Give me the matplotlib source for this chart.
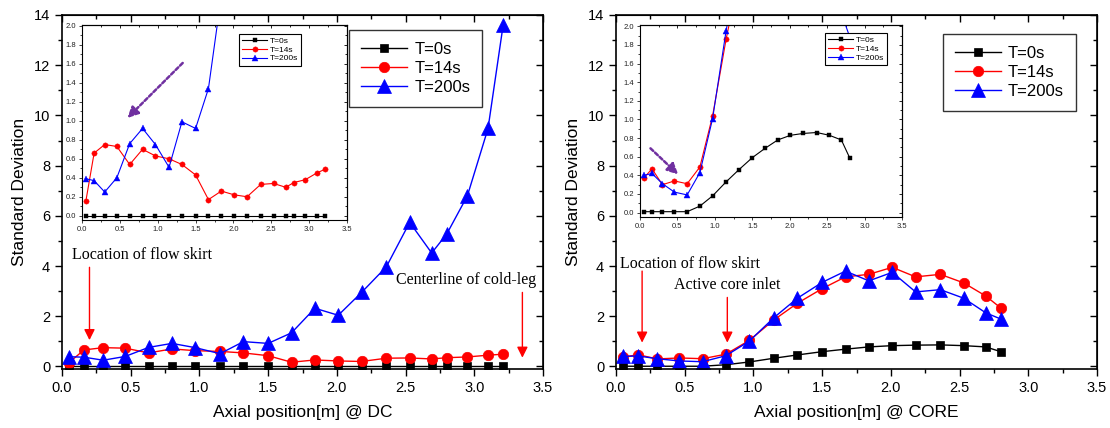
import matplotlib
matplotlib.use("Agg")
import matplotlib.pyplot as plt
from matplotlib.ticker import MultipleLocator

plt.rcParams['font.family'] = ['Liberation Sans', 'DejaVu Sans']

# ---------------- data ----------------
labels = ['T=0s', 'T=14s', 'T=200s']

dc_x = [0.05, 0.16, 0.30, 0.46, 0.63, 0.80, 0.97, 1.15, 1.32, 1.50, 1.67,
        1.84, 2.01, 2.18, 2.36, 2.53, 2.69, 2.80, 2.95, 3.10, 3.21]
dc_t0 = [0.0] * 21
dc_t14 = [0.15, 0.66, 0.75, 0.73, 0.54, 0.70, 0.63, 0.60, 0.54, 0.43, 0.17,
          0.26, 0.22, 0.20, 0.33, 0.34, 0.30, 0.35, 0.38, 0.45, 0.49]
dc_t200 = [0.39, 0.37, 0.25, 0.40, 0.76, 0.92, 0.75, 0.51, 0.99, 0.92, 1.34,
           2.32, 2.04, 2.95, 3.97, 5.74, 4.52, 5.28, 6.80, 9.48, 13.6]

core_x = [0.05, 0.16, 0.30, 0.46, 0.63, 0.80, 0.97, 1.15, 1.32, 1.50, 1.67,
          1.84, 2.01, 2.18, 2.36, 2.53, 2.69, 2.80]
core_t0 = [0.01, 0.01, 0.01, 0.01, 0.01, 0.07, 0.18, 0.33, 0.46, 0.59, 0.69,
           0.78, 0.83, 0.85, 0.86, 0.83, 0.78, 0.59]
core_t14 = [0.37, 0.47, 0.30, 0.34, 0.31, 0.49, 1.04, 1.86, 2.52, 3.10, 3.57,
            3.67, 3.95, 3.57, 3.67, 3.33, 2.81, 2.33]
core_t200 = [0.40, 0.42, 0.31, 0.22, 0.19, 0.43, 1.01, 1.95, 2.72, 3.35, 3.80,
             3.41, 3.75, 2.97, 3.06, 2.72, 2.14, 1.89]

colors = ['black', '#ff0000', '#0000ff']
markers = ['s', 'o', '^']
main_ms = [6, 7.5, 9.5]
inset_ms = [3.2, 3.8, 4.6]

W, H = 1110, 428
fig = plt.figure(figsize=(W / 100, H / 100), dpi=100)


def px_rect(x0, y0, x1, y1):
    return [x0 / W, (H - y1) / H, (x1 - x0) / W, (y1 - y0) / H]


def add_mirror_ticks(ax, xmaj, xmin, ymaj, ymin, length, mlength, width):
    top = ax.secondary_xaxis('top')
    top.xaxis.set_major_locator(MultipleLocator(xmaj))
    top.xaxis.set_minor_locator(MultipleLocator(xmin))
    top.tick_params(which='both', direction='in', labeltop=False, width=width)
    top.tick_params(which='major', length=length)
    top.tick_params(which='minor', length=mlength)
    right = ax.secondary_yaxis('right')
    right.yaxis.set_major_locator(MultipleLocator(ymaj))
    right.yaxis.set_minor_locator(MultipleLocator(ymin))
    right.tick_params(which='both', direction='in', labelright=False, width=width)
    right.tick_params(which='major', length=length)
    right.tick_params(which='minor', length=mlength)


def main_axes(rect, x, series, xlabel, legend_anchor):
    ax = fig.add_axes(rect)
    for s, c, m, ms, lab in zip(series, colors, markers, main_ms, labels):
        ax.plot(x, s, color=c, marker=m, markersize=ms, lw=1.0, label=lab,
                markeredgewidth=0.5)
    ax.set_xlim(0, 3.5)
    ax.set_ylim(-0.1, 14)
    ax.xaxis.set_major_locator(MultipleLocator(0.5))
    ax.xaxis.set_minor_locator(MultipleLocator(0.25))
    ax.yaxis.set_major_locator(MultipleLocator(2))
    ax.yaxis.set_minor_locator(MultipleLocator(1))
    ax.tick_params(which='both', direction='out', labelsize=10.5, width=1.0)
    ax.tick_params(which='major', length=5)
    ax.tick_params(which='minor', length=3)
    ax.xaxis.set_major_formatter(matplotlib.ticker.FormatStrFormatter('%.1f'))
    for sp in ax.spines.values():
        sp.set_linewidth(1.2)
    add_mirror_ticks(ax, 0.5, 0.25, 2, 1, 5, 3, 1.0)
    ax.set_xlabel(xlabel, fontsize=12.5, labelpad=7)
    ax.set_ylabel('Standard Deviation', fontsize=12.5, labelpad=5)
    leg = ax.legend(loc='upper left', bbox_to_anchor=legend_anchor,
                    borderaxespad=0, fontsize=12, frameon=True, fancybox=False,
                    edgecolor='black', handlelength=2.8, labelspacing=0.25,
                    borderpad=0.7, handletextpad=0.4)
    leg.get_frame().set_linewidth(1.0)
    leg.set_zorder(20)
    return ax


def inset_axes(rect, x, series, ylim, legend_anchor):
    ax = fig.add_axes(rect)
    ax.set_zorder(10)
    for s, c, m, ms, lab in zip(series, colors, markers, inset_ms, labels):
        ax.plot(x, s, color=c, marker=m, markersize=ms, lw=0.8, label=lab,
                markeredgewidth=0.3)
    ax.set_xlim(0, 3.5)
    ax.set_ylim(*ylim)
    ax.xaxis.set_major_locator(MultipleLocator(0.5))
    ax.xaxis.set_minor_locator(MultipleLocator(0.25))
    ax.yaxis.set_major_locator(MultipleLocator(0.2))
    ax.yaxis.set_minor_locator(MultipleLocator(0.1))
    ax.tick_params(which='both', direction='out', labelsize=5.5, width=0.6,
                   pad=2, colors='#222222')
    ax.tick_params(which='major', length=2.5)
    ax.tick_params(which='minor', length=1.5)
    ax.xaxis.set_major_formatter(matplotlib.ticker.FormatStrFormatter('%.1f'))
    ax.yaxis.set_major_formatter(matplotlib.ticker.FormatStrFormatter('%.1f'))
    for sp in ax.spines.values():
        sp.set_linewidth(0.8)
    add_mirror_ticks(ax, 0.5, 0.25, 0.2, 0.1, 2.5, 1.5, 0.6)
    leg = ax.legend(loc='upper left', bbox_to_anchor=legend_anchor,
                    borderaxespad=0, fontsize=6, frameon=True, fancybox=False,
                    edgecolor='black', handlelength=3.0, labelspacing=0.1,
                    borderpad=0.4, handletextpad=0.3, framealpha=1)
    leg.get_frame().set_linewidth(0.8)
    return ax


# ---------------- left panel (DC) ----------------
axL = main_axes(px_rect(62, 15, 543, 369), dc_x, [dc_t0, dc_t14, dc_t200],
                'Axial position[m] @ DC', (0.597, 0.958))
axL.text(0.07, 4.45, 'Location of flow skirt', family='Liberation Serif',
         fontsize=11.5, ha='left', va='center')
axL.annotate('', xy=(0.2, 1.05), xytext=(0.2, 3.95),
             arrowprops=dict(arrowstyle='-|>', color='#ff0000', lw=1.0,
                             mutation_scale=16, shrinkA=0, shrinkB=0))
axL.text(3.45, 3.45, 'Centerline of cold-leg', family='Liberation Serif',
         fontsize=11.5, ha='right', va='center')
axL.annotate('', xy=(3.35, 0.35), xytext=(3.35, 2.95),
             arrowprops=dict(arrowstyle='-|>', color='#ff0000', lw=1.0,
                             mutation_scale=16, shrinkA=0, shrinkB=0))

inL = inset_axes(px_rect(82, 25, 347, 220), dc_x, [dc_t0, dc_t14, dc_t200],
                 (-0.045, 2.01), (0.592, 0.954))
inL.annotate('', xy=(0.6, 1.03), xytext=(1.33, 1.61),
             arrowprops=dict(arrowstyle='-|>', color='#7030a0', lw=1.8,
                             linestyle=(0, (1.5, 1.0)), mutation_scale=16,
                             shrinkA=0, shrinkB=0))

# ---------------- right panel (CORE) ----------------
axR = main_axes(px_rect(616, 15, 1097, 369), core_x, [core_t0, core_t14, core_t200],
                'Axial position[m] @ CORE', (0.680, 0.946))
axR.text(0.03, 4.1, 'Location of flow skirt', family='Liberation Serif',
         fontsize=11.5, ha='left', va='center')
axR.annotate('', xy=(0.19, 0.95), xytext=(0.19, 3.8),
             arrowprops=dict(arrowstyle='-|>', color='#ff0000', lw=1.0,
                             mutation_scale=16, shrinkA=0, shrinkB=0))
axR.text(0.42, 3.25, 'Active core inlet', family='Liberation Serif',
         fontsize=11.5, ha='left', va='center')
axR.annotate('', xy=(0.81, 0.95), xytext=(0.81, 2.75),
             arrowprops=dict(arrowstyle='-|>', color='#ff0000', lw=1.0,
                             mutation_scale=16, shrinkA=0, shrinkB=0))

inR = inset_axes(px_rect(640, 25, 902, 217), core_x, [core_t0, core_t14, core_t200],
                 (-0.047, 2.014), (0.706, 0.958))
inR.annotate('', xy=(0.51, 0.41), xytext=(0.14, 0.69),
             arrowprops=dict(arrowstyle='-|>', color='#7030a0', lw=1.8,
                             linestyle=(0, (1.5, 1.0)), mutation_scale=16,
                             shrinkA=0, shrinkB=0))

fig.savefig('out.png', dpi=100)
